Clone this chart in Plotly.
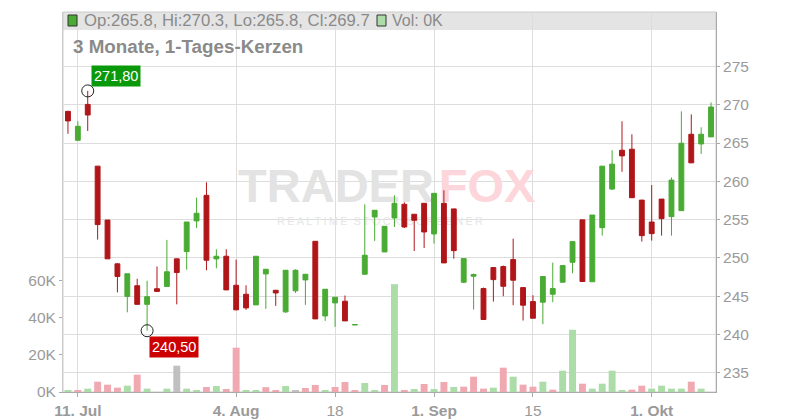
import plotly.graph_objects as go

# ---------------- data ----------------
dates = [
    "2025-07-10", "2025-07-11", "2025-07-14", "2025-07-15", "2025-07-16", "2025-07-17", "2025-07-18",
    "2025-07-21", "2025-07-22", "2025-07-23", "2025-07-24", "2025-07-25", "2025-07-28", "2025-07-29",
    "2025-07-30", "2025-07-31", "2025-08-01", "2025-08-04", "2025-08-05", "2025-08-06", "2025-08-07",
    "2025-08-08", "2025-08-11", "2025-08-12", "2025-08-13", "2025-08-14", "2025-08-15", "2025-08-18",
    "2025-08-19", "2025-08-20", "2025-08-21", "2025-08-22", "2025-08-25", "2025-08-26", "2025-08-27",
    "2025-08-28", "2025-08-29", "2025-09-01", "2025-09-02", "2025-09-03", "2025-09-04", "2025-09-05",
    "2025-09-08", "2025-09-09", "2025-09-10", "2025-09-11", "2025-09-12", "2025-09-15", "2025-09-16",
    "2025-09-17", "2025-09-18", "2025-09-19", "2025-09-22", "2025-09-23", "2025-09-24", "2025-09-25",
    "2025-09-26", "2025-09-29", "2025-09-30", "2025-10-01", "2025-10-02", "2025-10-03", "2025-10-06",
    "2025-10-07", "2025-10-08", "2025-10-09",
]

opens = [269.13, 265.36, 270.04, 261.98, 254.95, 249.23, 244.98, 246.37, 243.94, 245.98, 246.28,
         249.88, 250.83, 254.83, 258.17, 249.87, 250.22, 246.43, 245.26, 243.87, 247.91, 245.78,
         242.96, 245.70, 247.13, 252.17, 242.43, 244.13, 244.35, 241.25, 247.87, 255.35, 250.78,
         255.22, 257.00, 255.70, 257.13, 253.13, 257.13, 256.40, 246.83, 247.61, 246.00, 248.74,
         248.87, 249.78, 246.13, 244.30, 244.22, 245.26, 246.83, 249.43, 254.97, 246.89, 253.95,
         258.99, 264.06, 264.19, 257.55, 254.69, 257.68, 255.39, 256.17, 266.14, 264.88, 265.8]
highs = [269.20, 267.83, 271.80, 262.00, 254.95, 249.30, 247.93, 247.28, 247.02, 248.88, 252.35,
         249.90, 254.69, 257.87, 259.87, 251.13, 251.13, 249.78, 246.43, 250.22, 248.52, 245.80,
         248.39, 248.52, 247.87, 252.17, 245.91, 244.87, 245.09, 241.35, 257.00, 256.22, 254.13,
         258.17, 257.26, 255.70, 257.13, 258.43, 258.83, 256.40, 249.91, 247.96, 246.13, 248.74,
         249.00, 252.52, 246.13, 245.13, 247.57, 249.39, 249.00, 252.13, 254.97, 255.60, 262.00,
         264.06, 267.83, 266.14, 257.55, 259.51, 257.68, 260.50, 269.13, 268.74, 267.05, 270.3]
lows = [266.20, 265.30, 266.57, 252.39, 249.88, 245.50, 242.90, 243.90, 240.50, 245.60, 246.28,
        243.94, 248.45, 253.91, 248.39, 248.65, 245.80, 243.20, 243.22, 243.87, 243.35, 243.74,
        242.83, 245.43, 243.87, 242.04, 241.78, 241.00, 241.78, 241.25, 247.87, 252.22, 250.78,
        254.04, 253.91, 250.91, 251.30, 251.87, 249.35, 249.90, 246.70, 243.26, 241.96, 244.30,
        245.00, 243.83, 241.83, 242.13, 241.35, 244.22, 246.83, 248.00, 246.92, 246.89, 252.91,
        258.86, 261.24, 257.86, 252.13, 252.26, 252.91, 252.91, 256.17, 262.41, 263.58, 265.8]
closes = [267.88, 267.18, 268.66, 254.35, 249.88, 247.58, 247.93, 243.94, 244.94, 245.63, 248.19,
          248.10, 254.69, 255.83, 249.70, 250.22, 245.83, 243.22, 243.48, 250.22, 248.52, 245.43,
          248.39, 248.39, 247.87, 242.04, 245.91, 244.87, 241.78, 241.30, 250.35, 256.22, 254.13,
          257.13, 254.04, 254.91, 253.39, 258.43, 249.35, 250.95, 249.91, 247.83, 241.96, 247.17,
          246.30, 247.09, 243.83, 242.13, 247.57, 246.00, 249.00, 252.13, 246.92, 255.60, 261.98,
          262.24, 263.32, 257.86, 252.91, 253.17, 255.13, 260.16, 264.97, 262.41, 266.14, 269.7]

volumes = [700, 700, 1790, 5540, 3930, 2320, 3400, 9290, 1790, 0, 1790, 14120, 1790,
           630, 2700, 3200, 1600, 23800, 630, 1070, 2600, 1070, 3200, 630, 2150, 3750,
           630, 2680, 5360, 630, 4820, 630, 3750, 57900, 1070, 1600, 4300, 1600, 5360, 2700,
           2860, 8220, 1790, 2320, 13050, 8220, 3930, 2860, 5540, 1250, 11440, 33420, 4470,
           1790, 4470, 11440, 715, 1250, 3400, 1790, 3400, 1790, 1790, 5540, 1790, 0]
# direction of close vs previous close: u = up, d = down, n = unchanged
vol_dir = ["u", "d", "u", "d", "d", "d", "u", "d", "u", "u", "u", "n", "u",
           "u", "d", "u", "d", "d", "u", "u", "d", "d", "u", "n", "d", "d",
           "u", "d", "d", "d", "u", "u", "d", "u", "d", "u", "d", "u", "d", "u",
           "d", "d", "d", "u", "d", "u", "d", "d", "u", "d", "u", "u", "d",
           "u", "u", "u", "u", "d", "d", "u", "u", "u", "u", "d", "u", "u"]

price_ticks = [235, 240, 245, 250, 255, 260, 265, 270, 275]
vol_ticks = [0, 20000, 40000, 60000]
vol_tick_labels = ["0K", "20K", "40K", "60K"]
x_tick_dates = ["2025-07-11", "2025-08-04", "2025-08-18", "2025-09-01", "2025-09-15", "2025-10-01"]
x_tick_labels = ["<b>11. Jul</b>", "<b>4. Aug</b>", "18", "<b>1. Sep</b>", "15", "<b>1. Okt</b>"]
title_text = "3 Monate, 1-Tages-Kerzen"

# ---------------- style ----------------
FONT = "Liberation Sans, Arial, sans-serif"
GREEN = "#49ab33"
RED = "#b01619"
VOL_COL = {"u": "#acdca8", "d": "#f0a8b1", "n": "#c0c0c0"}
GRID = "#dddddd"
TICKC = "#9a9a9a"
BODY_OFF = 8                      # default page margin of the html body
W, H = 800 - BODY_OFF, 420 - BODY_OFF
PL, PR, PT, PB = 63, 716, 12, 392  # plot area on screen
ML, MR, MT, MB = PL - BODY_OFF, 800 - PR, PT - BODY_OFF, 420 - PB


def px(xs):
    return (xs - PL) / (PR - PL)


def py(ys):
    return (PB - ys) / (PB - PT)


fig = go.Figure()

# watermark on the base (hidden) subplot so it lies below the candles
fig.add_trace(go.Scatter(x=[px(336)], y=[py(190)], mode="text", text=["<b>TRADER</b>"],
                         textfont=dict(family=FONT, size=47, color="#e3e3e3"),
                         xaxis="x", yaxis="y", hoverinfo="skip", showlegend=False))
fig.add_trace(go.Scatter(x=[px(487)], y=[py(190)], mode="text", text=["<b>FOX</b>"],
                         textfont=dict(family=FONT, size=47, color="#fcd6da"),
                         xaxis="x", yaxis="y", hoverinfo="skip", showlegend=False))
fig.add_trace(go.Scatter(x=[px(380)], y=[py(222)], mode="text",
                         text=["R\u2009E\u2009A\u2009L\u2009T\u2009I\u2009M\u2009E  S\u2009T\u2009O\u2009C\u2009K  S\u2009C\u2009R\u2009E\u2009E\u2009N\u2009E\u2009R"],
                         textfont=dict(family=FONT, size=11, color="#e6e6e6"),
                         xaxis="x", yaxis="y", hoverinfo="skip", showlegend=False))

# volume bars
fig.add_trace(go.Bar(x=dates, y=volumes, marker=dict(color=[VOL_COL[d] for d in vol_dir], line_width=0),
                     width=0.7, xaxis="x2", yaxis="y2", hoverinfo="skip", showlegend=False))

# candles
fig.add_trace(go.Candlestick(x=dates, open=opens, high=highs, low=lows, close=closes,
                             increasing=dict(line=dict(color=GREEN, width=1), fillcolor=GREEN),
                             decreasing=dict(line=dict(color=RED, width=1), fillcolor=RED),
                             whiskerwidth=0, xaxis="x2", yaxis="y3", showlegend=False))

imax = highs.index(max(highs))
imin = lows.index(min(lows))
fig.add_trace(go.Scatter(x=[dates[imax], dates[imin]], y=[highs[imax], lows[imin]], mode="markers",
                         marker=dict(symbol="circle-open", size=12, color="#222222", line=dict(width=1)),
                         xaxis="x2", yaxis="y3", hoverinfo="skip", showlegend=False))


def fmt(v):
    return f"{v:.2f}".replace(".", ",")


annotations = [
    dict(x=dates[imax], y=highs[imax], xref="x2", yref="y3", text=fmt(highs[imax]), showarrow=False,
         xanchor="left", yanchor="bottom", xshift=3, yshift=4, bgcolor="#0a990a", borderpad=2,
         font=dict(family=FONT, size=14.5, color="white")),
    dict(x=dates[imin], y=lows[imin], xref="x2", yref="y3", text=fmt(lows[imin]), showarrow=False,
         xanchor="left", yanchor="top", xshift=2, yshift=-5, bgcolor="#cc0000", borderpad=2,
         font=dict(family=FONT, size=14.5, color="white")),
    dict(x=px(71), y=py(47), xref="paper", yref="paper", text="<b>" + title_text + "</b>", showarrow=False,
         xanchor="left", yanchor="middle", font=dict(family=FONT, size=18.8, color="#8a8a8a")),
    dict(x=px(82), y=py(21), xref="paper", yref="paper",
         text=f"Op:{opens[-1]}, Hi:{highs[-1]}, Lo:{lows[-1]}, Cl:{closes[-1]}", showarrow=False,
         xanchor="left", yanchor="middle", font=dict(family=FONT, size=16.7, color="#8a8a8a")),
    dict(x=px(390), y=py(21), xref="paper", yref="paper", text=f"Vol: {volumes[-1] // 1000}K", showarrow=False,
         xanchor="left", yanchor="middle", font=dict(family=FONT, size=16, color="#8a8a8a")),
]

shapes = [
    dict(type="rect", xref="paper", yref="paper", x0=0, x1=1, y0=py(30), y1=1,
         fillcolor="#e4e4e4", line=dict(width=0), layer="below"),
    dict(type="rect", xref="paper", yref="paper", x0=0, x1=1, y0=0, y1=1,
         fillcolor="rgba(0,0,0,0)", line=dict(width=1, color="#cccccc"), layer="below"),
    dict(type="rect", xref="paper", yref="paper", x0=px(68), x1=px(77), y0=py(26), y1=py(15),
         fillcolor=GREEN, line=dict(width=1, color="#333333"), layer="above"),
    dict(type="rect", xref="paper", yref="paper", x0=px(377), x1=px(386), y0=py(26), y1=py(15),
         fillcolor="#acdca8", line=dict(width=1, color="#333333"), layer="above"),
]

fig.update_layout(
    width=W, height=H, margin=dict(l=ML, r=MR, t=MT, b=MB, autoexpand=False),
    paper_bgcolor="white", plot_bgcolor="white",
    font=dict(family=FONT, color=TICKC),
    showlegend=False, dragmode=False, barmode="overlay",
    xaxis=dict(range=[0, 1], visible=False, fixedrange=True),
    yaxis=dict(range=[0, 1], visible=False, fixedrange=True),
    xaxis2=dict(overlaying="x", type="category", range=[-0.5, len(dates) - 0.5],
                tickmode="array", tickvals=x_tick_dates, ticktext=x_tick_labels,
                showgrid=True, gridcolor=GRID, gridwidth=1,
                ticks="outside", ticklen=4, tickcolor="#aaaaaa",
                showline=True, linecolor="#aaaaaa", linewidth=1,
                tickfont=dict(family=FONT, size=15.5, color=TICKC),
                rangeslider=dict(visible=False), fixedrange=True),
    yaxis2=dict(overlaying="y", side="left", range=[0, 204000],
                tickmode="array", tickvals=vol_ticks, ticktext=vol_tick_labels,
                showgrid=False, zeroline=False, ticks="outside", ticklen=3, tickcolor="#aaaaaa",
                showline=True, linecolor="#cccccc",
                tickfont=dict(family=FONT, size=15.5, color=TICKC), fixedrange=True),
    yaxis3=dict(overlaying="y", side="right", range=[232.5, 282.1],
                tickmode="array", tickvals=price_ticks,
                showgrid=True, gridcolor=GRID, gridwidth=1, zeroline=False,
                ticks="outside", ticklen=3, tickcolor="#aaaaaa",
                showline=True, linecolor="#aaaaaa",
                tickfont=dict(family=FONT, size=15.5, color=TICKC), fixedrange=True),
    annotations=annotations,
    shapes=shapes,
)

fig.write_html("out.html", config=dict(displayModeBar=False))
